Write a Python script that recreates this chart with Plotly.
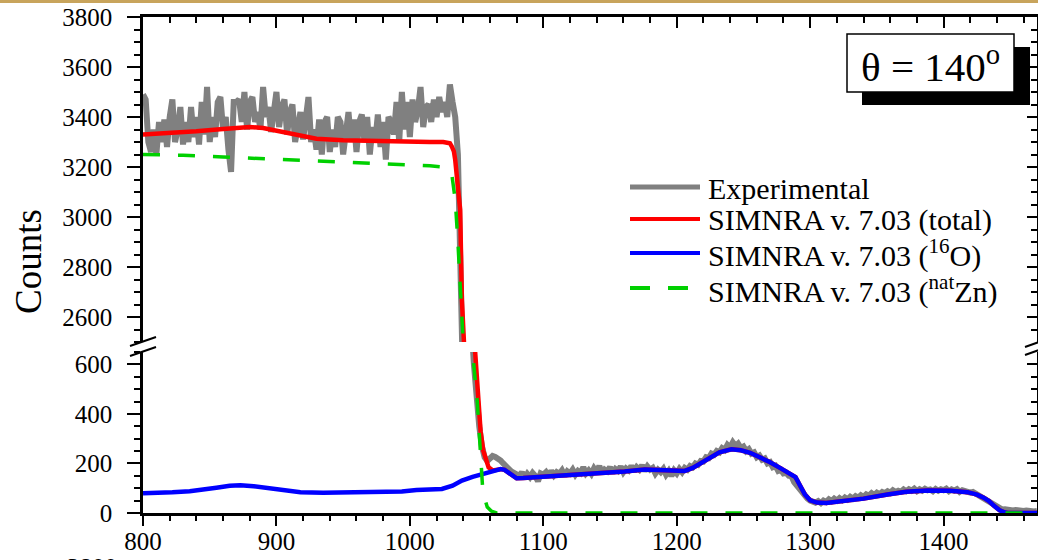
import plotly.graph_objects as go

# ---------------- data ----------------
exp_start = 800
exp_step = 2
exp_counts = [
    3490, 3470, 3300, 3260, 3350, 3250, 3380, 3300, 3390, 3280,   # 800
    3400, 3470, 3300, 3350, 3440, 3290, 3380, 3300, 3440, 3320,   # 820
    3400, 3290, 3460, 3330, 3520, 3300, 3400, 3320, 3460, 3480,   # 840
    3350, 3400, 3270, 3180, 3460, 3460, 3470, 3380, 3500, 3350,   # 860
    3460, 3480, 3380, 3420, 3350, 3520, 3400, 3440, 3340, 3420,   # 880
    3500, 3360, 3440, 3470, 3330, 3420, 3450, 3300, 3380, 3420,   # 900
    3310, 3400, 3480, 3300, 3350, 3270, 3390, 3250, 3380, 3400,   # 920
    3260, 3350, 3280, 3400, 3380, 3250, 3360, 3420, 3300, 3390,   # 940
    3260, 3380, 3410, 3300, 3400, 3250, 3360, 3300, 3410, 3280,   # 960
    3380, 3230, 3400, 3380, 3330, 3460, 3300, 3500, 3350, 3460,   # 980
    3320, 3470, 3380, 3430, 3520, 3360, 3440, 3450, 3380, 3470,   # 1000
    3400, 3480, 3420, 3460, 3400, 3530, 3460, 3400, 3250, 2850,   # 1020
    2300, 1600, 1050, 780, 600, 460, 350, 270, 225, 210,          # 1040
    222, 230, 226, 222, 212, 200, 188, 176, 168, 162,             # 1060
    158, 150, 165, 140, 158, 145, 162, 150, 128, 160,             # 1080
    155, 165, 148, 170, 152, 165, 158, 172, 150, 168,             # 1100
    160, 175, 155, 170, 162, 185, 160, 172, 158, 180,             # 1120
    165, 190, 160, 175, 168, 185, 162, 178, 170, 188,             # 1140
    165, 180, 172, 190, 168, 185, 175, 192, 170, 188,             # 1160
    175, 182, 160, 175, 165, 178, 155, 170, 150, 172,             # 1180
    160, 178, 165, 182, 175, 190, 185, 200, 195, 210,             # 1200
    208, 225, 222, 240, 235, 250, 245, 262, 255, 275,             # 1220
    265, 285, 270, 280, 262, 268, 250, 258, 240, 245,             # 1240
    225, 232, 215, 220, 200, 205, 185, 190, 170, 175,             # 1260
    160, 162, 150, 148, 125, 110, 95, 78, 65, 58,                 # 1280
    50, 45, 42, 48, 40, 50, 45, 55, 48, 58,                       # 1300
    50, 60, 52, 62, 55, 65, 58, 68, 62, 72,                       # 1320
    65, 75, 70, 80, 72, 82, 76, 85, 80, 88,                       # 1340
    82, 92, 85, 90, 86, 95, 88, 96, 90, 98,                       # 1360
    88, 96, 90, 98, 92, 95, 88, 97, 90, 96,                       # 1380
    92, 98, 88, 95, 90, 96, 85, 92, 88, 90,                       # 1400
    82, 85, 78, 75, 68, 62, 55, 48, 40, 30,                       # 1420
    22, 18, 14, 15, 12, 14, 10, 12, 9, 11,                        # 1440
    8, 10, 7, 9, 6, 8,                                            # 1460
]
exp_x = [exp_start + exp_step * i for i in range(len(exp_counts))]

o_x = [800, 810, 822, 835, 843, 855, 865, 873, 883, 893, 905, 918, 935, 950,
       970, 985, 994, 1005, 1015, 1024, 1032, 1039, 1047, 1055, 1062, 1068,
       1071, 1074, 1077, 1080, 1085, 1100, 1115, 1130, 1145, 1161, 1176, 1190,
       1200, 1206, 1212, 1218, 1224, 1232, 1241, 1248, 1255, 1262, 1270, 1278,
       1285, 1289, 1292, 1296, 1300, 1305, 1312, 1320, 1327, 1340, 1358, 1372,
       1388, 1405, 1418, 1425, 1430, 1434, 1438, 1442, 1446, 1448, 1470]
o_y = [80, 81, 84, 88, 92, 102, 110, 112, 108, 100, 90, 84, 82, 83,
       82, 84, 87, 93, 95, 97, 110, 131, 146, 157, 170, 177,
       174, 164, 150, 140, 141, 146, 153, 160, 165, 168, 176, 172,
       168, 170, 182, 200, 222, 245, 257, 253, 243, 226, 205, 180,
       160, 145, 115, 75, 51, 42, 40, 44, 48, 58, 75, 86,
       91, 90, 84, 74, 62, 48, 28, 11, 2, 0, 0]

total_x = [800, 820, 840, 860, 870, 880, 890, 900, 915, 930, 950, 975, 1000,
           1015, 1025, 1028, 1030, 1031.5, 1033, 1034, 1035.3, 1036.5, 1037.7,
           1039, 1040, 1043, 1046, 1049, 1051, 1053, 1055, 1057, 1059, 1062,
           1065, 1068, 1071, 1074, 1077, 1080, 1085, 1100, 1115, 1130, 1145,
           1161, 1176, 1190, 1200, 1206, 1212, 1218, 1224, 1232, 1241, 1248,
           1255, 1262, 1270, 1278, 1285, 1289, 1292, 1296, 1300, 1305, 1312,
           1320, 1327, 1340, 1358, 1372, 1388, 1405, 1418, 1425, 1430, 1434,
           1438, 1442, 1446, 1448, 1470]
total_y = [3330, 3335, 3343, 3352, 3358, 3360, 3356, 3345, 3325, 3313, 3307,
           3303, 3300, 3300, 3300, 3299, 3295, 3281, 3262, 3228, 3170, 3095,
           3028, 2668, 2500, 1500, 950, 644, 452, 330, 252, 210, 184, 172,
           175, 177, 174, 164, 150, 140, 141, 146, 153, 160, 165,
           168, 176, 172, 168, 170, 182, 200, 222, 245, 257, 253,
           243, 226, 205, 180, 160, 145, 115, 75, 51, 42, 40,
           44, 48, 58, 75, 86, 91, 90, 84, 74, 62, 48,
           28, 11, 2, 0, 0]

zn_x = [800, 830, 860, 890, 920, 950, 980, 1000, 1015, 1025, 1028, 1031.5,
        1034, 1036, 1037.8, 1039, 1042, 1045, 1047, 1050.5, 1052.8, 1054.5,
        1056, 1058, 1061, 1065, 1470]
zn_y = [3250, 3247, 3240, 3233, 3226, 3220, 3215, 3210, 3205, 3200, 3196, 3168,
        3068, 2900, 2668, 2500, 1500, 950, 650, 452, 252, 104,
        60, 24, 8, 0, 0]

series_names = ["Experimental", "SIMNRA v. 7.03 (total)",
                "SIMNRA v. 7.03 (<sup>16</sup>O)",
                "SIMNRA v. 7.03 (<sup>nat</sup>Zn)"]

# ---------------- figure ----------------
W, H = 1038, 560
L, R, T, B = 143, 1, 17, 47
PW, PH = W - L - R, H - T - B


def px(xp):
    return (xp - L) / PW


def py(yp):
    return (H - B - yp) / PH


fig = go.Figure()

styles = [
    (exp_x, exp_counts, dict(color="#808080", width=6)),
    (total_x, total_y, dict(color="#FF0000", width=4.5)),
    (o_x, o_y, dict(color="#0000FF", width=4.5)),
    (zn_x, zn_y, dict(color="#00D000", width=3.5, dash="17px,18px")),
]

for xa, ya in [("x2", "y2"), ("x", "y")]:
    for (xs, ys, ln), nm in zip(styles, series_names):
        fig.add_trace(go.Scatter(x=xs, y=ys, mode="lines", line=ln, name=nm,
                                 xaxis=xa, yaxis=ya, showlegend=False,
                                 hoverinfo="skip"))

# helper traces so the mirrored right axes are drawn
fig.add_trace(go.Scatter(x=[None], y=[None], xaxis="x", yaxis="y3",
                         showlegend=False, hoverinfo="skip"))
fig.add_trace(go.Scatter(x=[None], y=[None], xaxis="x2", yaxis="y4",
                         showlegend=False, hoverinfo="skip"))

tfont = dict(family="Liberation Serif", size=25, color="black")
XR = [800, 1470]
YR_LO = [0, 650]
YR_HI = [2500, 3800]
d_lo = [0, 161 / 496]
d_hi = [171 / 496, 1]

base = dict(showline=True, linecolor="black", linewidth=2.5, showgrid=False,
            zeroline=False, tickcolor="black", tickwidth=2, tickfont=tfont,
            automargin=False)

fig.update_layout(
    width=W, height=H,
    margin=dict(l=L, r=R, t=T, b=B, autoexpand=False),
    paper_bgcolor="white", plot_bgcolor="white",
    showlegend=False,
    xaxis=dict(base, domain=[0, 1], range=XR, anchor="y", ticks="outside",
               ticklen=10, dtick=100, tick0=800, ticklabelstandoff=-6,
               minor=dict(dtick=20, ticks="outside", ticklen=5, tickwidth=2,
                          tickcolor="black")),
    xaxis2=dict(base, domain=[0, 1], range=XR, anchor="y2", side="top",
                ticks="inside", ticklen=11, dtick=100, tick0=800,
                showticklabels=False,
                minor=dict(dtick=20, ticks="inside", ticklen=6, tickwidth=2,
                           tickcolor="black")),
    yaxis=dict(base, domain=d_lo, range=YR_LO, anchor="x", ticks="outside",
               ticklen=13, dtick=200, tick0=0, ticklabelstandoff=10,
               minor=dict(dtick=50, ticks="outside", ticklen=6, tickwidth=2,
                          tickcolor="black")),
    yaxis2=dict(base, domain=d_hi, range=YR_HI, anchor="x2", ticks="outside",
                ticklen=13, dtick=200, tick0=0, ticklabelstandoff=10,
                minor=dict(dtick=50, ticks="outside", ticklen=6, tickwidth=2,
                           tickcolor="black")),
    yaxis3=dict(base, domain=d_lo, range=YR_LO, anchor="x", overlaying="y",
                side="right", ticks="inside", ticklen=10, dtick=200, tick0=0,
                showticklabels=False,
                minor=dict(dtick=50, ticks="inside", ticklen=6, tickwidth=2,
                           tickcolor="black")),
    yaxis4=dict(base, domain=d_hi, range=YR_HI, anchor="x2", overlaying="y2",
                side="right", ticks="inside", ticklen=10, dtick=200, tick0=0,
                showticklabels=False,
                minor=dict(dtick=50, ticks="inside", ticklen=6, tickwidth=2,
                           tickcolor="black")),
)

shapes = [
    # gold strip at the very top
    dict(type="line", xref="paper", yref="paper", x0=px(0), x1=px(W),
         y0=py(1.5), y1=py(1.5), line=dict(color="#C8A45C", width=3)),
    # axis break marks (left)
    dict(type="line", xref="paper", yref="paper", x0=px(130), x1=px(156),
         y0=py(346), y1=py(337), line=dict(color="black", width=2)),
    dict(type="line", xref="paper", yref="paper", x0=px(130), x1=px(156),
         y0=py(356), y1=py(347), line=dict(color="black", width=2)),
    # axis break marks (right)
    dict(type="line", xref="paper", yref="paper", x0=px(1025), x1=px(1042),
         y0=py(347), y1=py(341), line=dict(color="black", width=2)),
    dict(type="line", xref="paper", yref="paper", x0=px(1025), x1=px(1042),
         y0=py(355), y1=py(349), line=dict(color="black", width=2)),
    # label box shadow and box
    dict(type="rect", xref="paper", yref="paper", x0=px(862), x1=px(1030),
         y0=py(105), y1=py(47), fillcolor="black", line=dict(width=0),
         layer="above"),
    dict(type="rect", xref="paper", yref="paper", x0=px(847), x1=px(1014),
         y0=py(92), y1=py(34), fillcolor="white",
         line=dict(color="black", width=1.5), layer="above"),
]

# legend drawn as line samples + labels
leg_rows = [187, 219, 253, 288]
leg_lines = [dict(color="#808080", width=5), dict(color="#FF0000", width=4),
             dict(color="#0000FF", width=4),
             dict(color="#00D000", width=4, dash="20px,18px")]
for yrow, ln in zip(leg_rows, leg_lines):
    x_end = 688 if "dash" in ln else 700
    shapes.append(dict(type="line", xref="paper", yref="paper", x0=px(630),
                       x1=px(x_end), y0=py(yrow), y1=py(yrow), line=ln))
fig.update_layout(shapes=shapes)

for yrow, nm in zip(leg_rows, series_names):
    fig.add_annotation(text=nm, xref="paper", yref="paper", x=px(706),
                       y=py(yrow + 1), xanchor="left", yanchor="middle",
                       showarrow=False,
                       font=dict(family="Liberation Serif", size=30,
                                 color="black"))

fig.add_annotation(text="θ = 140<sup>o</sup>", xref="paper", yref="paper",
                   x=px(930), y=py(64), xanchor="center", yanchor="middle",
                   showarrow=False,
                   font=dict(family="Liberation Serif", size=41, color="black"))
fig.add_annotation(text="Counts", xref="paper", yref="paper", x=px(28),
                   y=py(262), xanchor="center", yanchor="middle",
                   textangle=-90, showarrow=False,
                   font=dict(family="Liberation Serif", size=37, color="black"))
fig.add_annotation(text="3800", xref="paper", yref="paper", x=px(92),
                   y=py(567), xanchor="center", yanchor="middle",
                   showarrow=False, font=tfont)

fig.write_html("out.html")
